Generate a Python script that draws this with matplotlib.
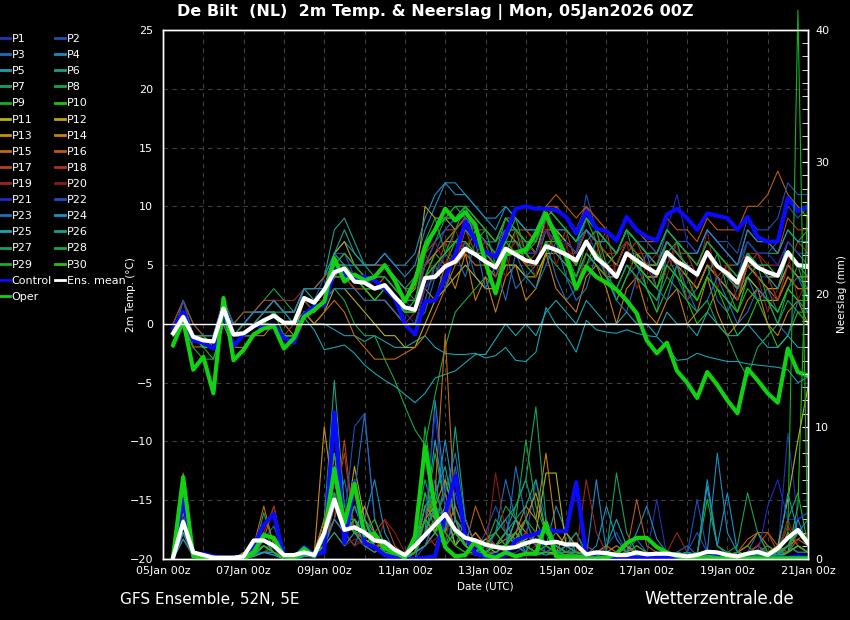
import matplotlib
matplotlib.use('Agg')
import matplotlib.pyplot as plt
from matplotlib.lines import Line2D
from matplotlib.ticker import MultipleLocator
import pandas as pd

# 6-hourly steps, +6h .. +384h from 05Jan2026 00Z
times = pd.date_range('2026-01-05 06:00', periods=64, freq='6h')

# ensemble mean / control / operational run, 2m temperature (deg C)
mean_t = [-0.8, 0.6, -1.1, -1.4, -1.5, 1.3, -0.9, -0.8, -0.2, 0.3, 0.7, 0.1, 0.1, 2.2, 1.8, 2.9,
          4.4, 4.7, 3.6, 3.5, 3.0, 3.3, 2.3, 1.4,
          1.2, 3.9, 4.0, 4.9, 5.3, 6.4, 5.9, 5.3,
          4.8, 6.4, 5.9, 5.4, 5.2, 6.6, 6.3, 5.9,
          5.4, 7.0, 5.6, 4.9, 4.0, 6.0, 5.4, 4.8,
          4.3, 6.1, 5.3, 4.8, 4.2, 6.1, 4.9, 4.3,
          3.5, 5.6, 4.8, 4.4, 4.1, 6.1, 5.0, 4.9]
control_t = [-0.4, 1.0, -1.4, -1.6, -2.1, 1.0, -1.9, -0.9, -0.1, -0.2, -0.1, -1.2, -1.6, 0.8, 1.5, 1.6,
             4.6, 4.2, 3.9, 4.0, 3.7, 3.0, 2.2, 0.0,
             -0.9, 1.9, 2.0, 4.0, 5.9, 8.7, 7.0, 6.1,
             5.7, 7.6, 9.8, 10.0, 9.8, 9.8, 9.7, 9.1,
             7.7, 9.6, 8.1, 7.9, 7.1, 9.1, 8.0, 7.4,
             7.1, 9.3, 9.8, 9.0, 8.0, 9.4, 9.2, 9.0,
             8.0, 9.1, 7.4, 7.0, 7.0, 10.7, 9.6, 10.0]
oper_t = [-1.8, 0.3, -3.9, -2.8, -5.9, 2.2, -3.1, -2.2, -0.9, -0.4, -0.2, -2.1, -1.2, 0.6, 1.2, 1.9,
          5.6, 3.6, 4.2, 3.7, 4.0, 5.0, 3.7, 1.9,
          3.7, 6.6, 8.0, 9.8, 8.8, 9.5, 8.4, 5.2,
          2.6, 5.9, 6.1, 6.3, 7.7, 9.4, 7.4, 5.7,
          3.0, 4.9, 4.0, 3.5, 2.9, 2.0, 0.9, -1.4,
          -2.5, -1.6, -4.0, -5.0, -6.3, -4.1, -5.2, -6.5,
          -7.6, -3.8, -4.8, -5.9, -6.7, -2.1, -4.1, -4.4]

# precipitation per 6h (mm)
mean_p = [0.1, 2.8, 0.5, 0.3, 0.1, 0.1, 0.1, 0.2,
          1.4, 1.4, 1.0, 0.3, 0.3, 0.5, 0.3, 2.0,
          4.5, 2.2, 2.4, 2.0, 1.4, 1.3, 0.7, 0.3,
          1.0, 1.8, 2.6, 3.4, 2.2, 1.6, 1.4, 1.1,
          0.9, 0.8, 0.9, 1.2, 1.4, 1.2, 1.3, 1.1,
          1.1, 0.35, 0.5, 0.45, 0.3, 0.3, 0.5, 0.35,
          0.4, 0.4, 0.3, 0.2, 0.3, 0.55, 0.5, 0.3,
          0.2, 0.4, 0.55, 0.3, 0.8, 1.6, 2.2, 1.2]
control_p = [0, 4.5, 0.3, 0.4, 0.2, 0.1, 0.1, 0.2,
             1.0, 2.6, 3.4, 0.2, 0.1, 0.9, 0.3, 0.5,
             11.1, 1.2, 5.8, 1.2, 0.9, 0.3, 0.1, 0.0,
             0.0, 0.1, 0.2, 3.4, 6.3, 1.7, 0.4, 0.2,
             0.2, 0.3, 1.4, 1.7, 1.9, 2.3, 2.1, 2.1,
             5.8, 0.3, 0.1, 0.1, 0.1, 0.1, 0.1, 0.1,
             0.1, 0.1, 0.1, 0.2, 0.3, 0.5, 0.4, 0.1,
             0.1, 0.1, 0.1, 0.1, 0.1, 0.1, 0.2, 0.1]
oper_p = [0.2, 6.2, 0.2, 0.1, 0.1, 0.0, 0.0, 0.0,
          0.55, 1.8, 1.6, 0.2, 0.1, 0.8, 0.2, 1.9,
          6.8, 2.7, 5.7, 1.8, 1.9, 0.8, 0.5, 0.1,
          1.7, 8.5, 3.7, 0.9, 0.2, 0.3, 1.4, 0.3,
          0.1, 0.5, 0.2, 0.4, 0.4, 2.7, 0.2, 0.1,
          0.1, 0.05, 0.05, 0.1, 0.4, 1.2, 1.6, 1.6,
          0.9, 0.5, 0.2, 0.05, 0.05, 0.05, 0.05, 0.05,
          0.05, 0.05, 0.05, 0.05, 0.05, 0.05, 0.05, 0.05]

member_names = ['P%d' % i for i in range(1, 31)]
member_colors = ['#2234b0', '#1f4fb4', '#1e6bb8', '#1b8cc0', '#1aa0b0', '#17a086', '#17a060', '#16a840',
                 '#14b024', '#22c012', '#b4b414', '#bca214', '#c49014', '#c47e14', '#c06a14', '#b85a16',
                 '#b04418', '#a8341a', '#9c241a', '#8c1a14', '#2228c4', '#1f4fb8', '#1e6fb8', '#1b90c4',
                 '#1aa4b0', '#17a086', '#17a060', '#16a840', '#14b024', '#22c012']

# perturbed members, 2m temperature
member_t = [
    [-1, 1, -1, -1, -2, 1, -1, 0, 0, 1, 1, 0, 0, 2, 2, 3, 5, 5, 4, 4, 3, 4, 3, 2, 1, 3, 5, 6, 7, 8, 7, 6, 5, 7, 7, 6, 6, 8, 7, 7, 6, 8, 6, 5, 4, 6, 6, 5, 5, 7, 6, 5, 4, 6, 5, 4, 3, 5, 4, 4, 3, 5, 4, 4],
    [0, 2, -1, -2, -2, 1, -1, -1, 0, 1, 2, 1, 0, 3, 2, 4, 6, 6, 4, 4, 3, 3, 2, 1, 2, 5, 6, 8, 9, 10, 8, 7, 6, 8, 8, 7, 6, 9, 8, 7, 6, 11, 8, 7, 6, 8, 7, 6, 5, 8, 7, 6, 5, 7, 6, 5, 4, 7, 6, 6, 7, 10, 9, 10],
    [-1, 1, -2, -2, -2, 0, -2, -1, -1, 0, 0, -1, -1, 1, 1, 2, 4, 4, 3, 3, 2, 2, 1, 0, 0, 1, 4, 6, 5, 7, 4, 3, 5, 6, 3, 4, 5, 7, 4, 2, 3, 5, 6, 4, 2, 4, 5, 3, 1, 6, 4, 2, 3, 5, 2, 1, 3, 4, 2, 3, 1, 3, 4, 2],
    [-1, 2, 0, -1, -1, 2, 0, 0, 1, 1, 2, 1, 1, 3, 3, 4, 6, 7, 6, 5, 5, 6, 5, 4, 5, 8, 10, 12, 11, 11, 10, 9, 8, 10, 9, 8, 8, 10, 9, 8, 7, 9, 8, 7, 6, 8, 7, 6, 6, 8, 7, 6, 5, 7, 6, 5, 4, 6, 5, 5, 4, 7, 6, 5],
    [-1, 1, -1, -2, -2, 1, -1, -1, 0, 0, 1, 0, 0, 1, 0, 0, -0.5, -1, -1, -1.5, -1, -1.5, -2, -2, -1.5, -1, -2, -2.5, -2.6, -2.6, -2.5, -2.9, -2.7, -2, -3.1, -3.2, -2.4, 1.4, -0.1, -1, -2.4, 0.3, -0.5, -0.7, -0.8, -0.5, -0.8, -1, -1.1, -2, -3.1, -3, -2.5, -2.8, -3, -3.2, -3.2, -3.4, -3.5, -3.6, -3.7, -3.9, -5, -4.5],
    [-1, 1, -2, -2, -2, 1, -1, 0, 1, 1, 2, 1, 1, 3, 3, 4, 8, 9, 7, 5, 5, 5, 4, 3, 3, 6, 8, 9, 10, 9, 8, 7, 6, 8, 7, 6, 5, 8, 7, 6, 5, 7, 6, 5, 4, 6, 5, 4, 4, 6, 5, 4, 3, 5, 4, 3, 2, 5, 4, 3, 3, 5, 4, 3],
    [-1, 1, -1, -1, -1, 2, 0, 1, 1, 2, 3, 2, 1, 3, 2, 3, 5, 6, 5, 4, 4, 5, 4, 3, 2, 4, 6, 7, 8, 9, 8, 7, 6, 9, 8, 7, 6, 9, 8, 7, 6, 8, 7, 6, 5, 7, 6, 5, 4, 7, 6, 5, 4, 6, 5, 4, 3, 5, 5, 4, 4, 6, 5, 5],
    [-1, 1, -1, -2, -2, 1, -1, -1, 0, 0, 1, 0, 0, 2, 1, 2, 3, 2, 0, -1, -1, -3, -4.8, -7, -9, -10.3, -6, -2, 1, 2, 3, 4, 3, 5, 5, 4, 3, 6, 5, 4, 3, 6, 5, 4, 3, 5, 4, 3, 2, 5, 4, 3, 2, 4, 3, 2, 1, 4, 3, 2, 1, 3, 2, 1],
    [-2, 0, -2, -2, -3, 0, -2, -1, 0, 0, 1, -1, -1, 1, 1, 2, 4, 5, 4, 3, 3, 3, 2, 1, 2, 5, 7, 9, 10, 10, 9, 8, 7, 9, 8, 7, 6, 9, 8, 7, 6, 9, 7, 6, 5, 7, 6, 5, 5, 7, 6, 6, 5, 7, 6, 5, 5, 7, 6, 6, 6, 8, 7, 8],
    [-1, 1, -1, -1, -2, 1, -1, -1, 0, 0, 0, -1, -1, 1, 1, 2, 4, 4, 3, 3, 2, 3, 2, 1, 1, 4, 6, 5, 7, 6, 8, 5, 4, 6, 8, 5, 4, 6, 8, 6, 3, 5, 7, 4, 2, 4, 6, 3, 1, 3, 5, 2, 0, 1, 3, 1, -1, 0, 2, 0, -2, -1, 1, 0],
    [-1, 0, -2, -2, -2, 0, -2, -1, -1, 0, 0, -1, -1, 1, 0, 1, 3, 3, 2, 1, 0, -1, -1, -2, -2, 0, 2, 3, 4, 5, 4, 3, 3, 5, 5, 4, 4, 6, 6, 5, 4, 6, 5, 4, 4, 6, 5, 4, 4, 6, 5, 4, 3, 5, 4, 3, 2, 4, 3, 2, 2, 4, 3, 3],
    [-1, 1, -1, -2, -2, 1, -1, -1, 0, 1, 1, 0, 0, 2, 2, 3, 6, 7, 5, 4, 4, 4, 3, 2, 3, 10, 9, 9, 8, 9, 8, 7, 7, 8, 7, 6, 6, 8, 8, 7, 6, 8, 7, 6, 5, 7, 6, 5, 5, 7, 6, 5, 4, 6, 5, 4, 3, 6, 5, 4, 4, 6, 5, 5],
    [-1, 1, -2, -2, -2, 1, -1, 0, 0, 0, 1, 0, -1, 2, 2, 3, 5, 5, 4, 3, 3, 3, 2, 2, 2, 5, 6, 7, 7, 8, 7, 6, 6, 8, 8, 7, 6, 9, 10, 9, 8, 10, 8, 7, 6, 8, 7, 6, 5, 7, 6, 5, 4, 6, 5, 4, 3, 5, 4, 3, 3, 5, 4, 4],
    [-1, 1, -1, -1, -2, 2, -1, -1, -1, 0, 0, -1, -1, 1, 1, 2, 4, 4, 3, 3, 2, 2, 1, 0, 0, 3, 2, 5, 3, 6, 2, 4, 1, 4, 5, 2, 3, 6, 3, 2, 1, 4, 5, 3, 0, 3, 4, 1, 0, 2, 3, 0, 1, 4, 1, -1, 0, 2, 3, 0, -1, 1, 2, 0],
    [-1, 0, -2, -2, -2, 0, -2, -2, -1, -1, 0, -1, -1, 1, 0, 1, 2, 1, -1, -2, -3, -3, -3, -2.5, -2, -1, 1, 3, 5, 6, 5, 5, 4, 6, 6, 5, 5, 7, 7, 6, 5, 7, 6, 5, 4, 6, 5, 4, 4, 6, 5, 4, 3, 5, 4, 3, 2, 5, 4, 3, 2, 4, 3, 3],
    [-1, 1, -1, -2, -2, 1, -1, -1, 0, 0, 1, 0, 0, 2, 2, 3, 5, 5, 4, 3, 3, 4, 3, 2, 2, 5, 6, 7, 8, 9, 8, 7, 7, 9, 9, 8, 7, 10, 11, 10, 9, 10, 9, 8, 7, 9, 8, 7, 7, 9, 8, 8, 7, 9, 8, 8, 8, 10, 10, 11, 13, 11, 10, 9],
    [0, 2, 0, -1, -1, 2, 0, 1, 1, 2, 2, 1, 1, 3, 3, 4, 5, 6, 5, 5, 5, 5, 4, 3, 3, 6, 7, 8, 8, 9, 8, 8, 7, 9, 8, 8, 7, 10, 10, 9, 8, 10, 9, 8, 7, 9, 8, 7, 6, 8, 7, 6, 6, 8, 7, 6, 5, 8, 7, 7, 6, 9, 8, 8],
    [-1, 1, -2, -2, -2, 0, -2, -1, -1, 0, 0, -1, 0, 2, 1, 2, 4, 4, 3, 2, 2, 2, 1, 0, 1, 6, 4, 7, 5, 8, 6, 7, 4, 6, 7, 5, 6, 8, 6, 8, 5, 7, 6, 8, 4, 6, 7, 5, 3, 5, 7, 6, 4, 6, 4, 5, 3, 5, 6, 4, 2, 5, 7, 6],
    [-1, 1, -1, -1, -2, 1, -1, 0, 0, 1, 2, 2, 2, 3, 3, 3, 4, 4, 3, 3, 3, 3, 2, 1, 1, 3, 4, 5, 6, 7, 6, 6, 6, 7, 7, 7, 6, 8, 7, 6, 6, 8, 7, 6, 6, 7, 6, 6, 5, 7, 6, 6, 5, 7, 6, 5, 5, 6, 6, 5, 5, 7, 6, 6],
    [-1, 1, -2, -2, -2, 1, -1, -1, 0, 0, 1, 0, 0, 2, 2, 2, 4, 5, 4, 3, 3, 3, 2, 1, 1, 5, 7, 5, 8, 6, 9, 5, 6, 4, 8, 6, 4, 9, 5, 7, 3, 6, 8, 4, 5, 7, 3, 5, 6, 4, 7, 2, 4, 8, 3, 5, 2, 6, 4, 1, 3, 6, 2, 4],
    [-1, 1, -1, -2, -2, 1, -1, -1, -1, 0, 0, -1, -1, 1, 1, 2, 4, 4, 4, 3, 3, 3, 2, 1, 0, 3, 4, 6, 7, 8, 7, 6, 5, 7, 7, 6, 6, 8, 7, 7, 6, 9, 8, 7, 6, 8, 7, 6, 6, 8, 11, 7, 6, 8, 7, 6, 5, 7, 6, 6, 5, 7, 6, 6],
    [-1, 2, -1, -1, -1, 2, 0, 0, 1, 1, 1, 0, 0, 2, 2, 3, 5, 6, 5, 4, 4, 4, 3, 2, 2, 5, 7, 8, 9, 9, 8, 7, 7, 8, 8, 7, 7, 9, 8, 8, 7, 9, 8, 7, 6, 8, 7, 7, 6, 8, 7, 7, 6, 8, 7, 7, 6, 9, 8, 8, 9, 12, 11, 11],
    [-1, 1, -1, -2, -2, 0, -1, -1, 0, 0, 0, -1, -1, 1, 1, 2, 3, 3, 3, 2, 2, 2, 1, 0, 0, 2, 5, 3, 6, 4, 7, 3, 5, 2, 6, 4, 3, 5, 7, 4, 2, 3, 6, 5, 2, 1, 4, 6, 3, 2, 5, 3, 1, 2, 4, 2, 0, 1, 3, 2, 0, -1, 2, 1],
    [-1, 1, -1, -1, -1, 1, 0, 0, 1, 1, 2, 1, 1, 3, 3, 3, 6, 5, 5, 5, 5, 6, 5, 5, 6, 9, 11, 12, 12, 11, 10, 9, 9, 10, 9, 8, 8, 9, 8, 8, 7, 8, 7, 7, 6, 8, 7, 6, 6, 8, 7, 6, 6, 8, 7, 6, 5, 8, 7, 7, 6, 8, 7, 7],
    [-1, 1, -1, -2, -2, 1, -1, -1, 0, 0, 1, 0, 0, 0.5, -0.5, -2.2, -2, -1.8, -2.5, -3.5, -4.2, -4.8, -5.3, -6, -6.7, -5.9, -4.6, -4.3, -4, -3.3, -2.6, -2.6, -1.3, 0, -1, 0, -1, 1, 2, 1, 0, 2, 1, 0, 0, 1, 0, 0, -1, 1, 0, 0, -1, 1, 0, -1, -1, 0, -1, -2, -2, -1, -2, -2],
    [-1, 1, -1, -2, -2, 1, -1, 0, 0, 1, 1, 1, 0, 2, 2, 3, 6, 8, 6, 5, 4, 5, 4, 3, 4, 7, 8, 9, 9, 10, 9, 8, 7, 9, 8, 7, 7, 10, 9, 8, 7, 9, 8, 7, 6, 8, 7, 6, 5, 7, 6, 5, 4, 6, 5, 4, 3, 6, 5, 4, 3, 6, 5, 4],
    [-1, 1, -1, -2, -2, 1, -1, -1, 0, 0, 1, 0, 0, 2, 2, 3, 5, 5, 4, 3, 3, 3, 2, 1, 1, 4, 5, 6, 7, 8, 7, 6, 5, 7, 7, 6, 5, 7, 6, 5, 4, 6, 5, 4, 3, 5, 4, 3, 2, 4, 3, 2, 1, 2, 0, -1, -3, -4.5, -2, -1, 0, 2, 1, 1],
    [-2, 0, -2, -3, -3, 0, -2, -1, -1, 0, 0, -1, -1, 1, 1, 2, 4, 5, 4, 3, 3, 3, 2, 1, 1, 7, 9, 6, 8, 10, 7, 8, 5, 7, 9, 6, 7, 9, 7, 6, 4, 7, 8, 5, 6, 8, 5, 4, 3, 6, 7, 4, 2, 4, 6, 3, 1, 4, 5, 2, 0, 3, 5, 2],
    [-1, 1, -1, -1, -2, 1, -1, -1, 0, 0, 1, 0, 0, 2, 2, 3, 5, 6, 5, 4, 4, 4, 3, 2, 2, 6, 8, 9, 9, 10, 9, 8, 7, 9, 8, 7, 7, 10, 9, 8, 7, 9, 8, 7, 6, 8, 7, 6, 6, 8, 7, 6, 5, 7, 6, 5, 4, 6, 5, 5, 4, 6, 5, 5],
    [-1, 1, -1, -2, -2, 1, -1, -1, 0, 0, 0, -1, -1, 1, 1, 2, 4, 4, 4, 3, 2, 3, 2, 1, 1, 4, 5, 6, 7, 7, 6, 6, 5, 7, 6, 6, 5, 7, 7, 6, 5, 7, 6, 5, 4, 6, 5, 4, 3, 5, 4, 3, 2, 4, 3, 2, 1, 3, 2, 2, 1, 3, 2, 2],
]

# perturbed members, precipitation per 6h
member_p = [
    [0, 2.5, 0.3, 0, 0, 0, 0, 0, 0.5, 1, 0.8, 0, 0, 0.3, 0, 1, 5, 1.5, 3, 2, 1, 0.5, 0.2, 0, 0.5, 2, 4, 3, 1, 0.5, 0.5, 1, 0.5, 0.3, 0.5, 1, 2, 1, 0.5, 1, 0.5, 0, 0.2, 0.3, 0, 0, 0.5, 0.3, 4.5, 0.2, 0, 0, 0, 0.5, 0.3, 0, 0, 0.5, 1, 0.5, 0.3, 9.5, 3, 3.5],
    [0, 3, 0.5, 0.2, 0, 0, 0, 0, 0.3, 0.5, 1, 0.2, 0, 0.5, 0.3, 2, 8, 3, 2, 4, 1.5, 1, 0.3, 0, 0, 1, 3, 5, 2, 1, 0.5, 2, 4, 2, 1, 1.5, 6, 3, 1, 0.5, 0.3, 0, 0, 1, 2, 0.5, 0.3, 0, 0.2, 0, 0.3, 0.5, 2, 0.5, 0.2, 0, 0, 0.3, 0.5, 0.2, 0, 1, 3, 3.5],
    [0, 4, 0.5, 0, 0, 0, 0, 0, 0.2, 1.5, 2.5, 0.3, 0, 0.5, 0.5, 1, 3, 6, 2, 1, 2, 0.5, 0.3, 0, 1, 3, 6, 2, 7, 2, 1, 1, 2, 6, 3, 1, 2, 1, 0.5, 1, 2, 0.3, 0.5, 0.3, 0, 0.5, 1.5, 0.5, 0.3, 0.2, 0.5, 1, 0.3, 0.2, 0.5, 0.3, 0.2, 0.5, 2, 0.5, 0.5, 1, 2, 1],
    [0, 2, 0.3, 0, 0, 0, 0, 0, 0.5, 0.5, 1, 0, 0, 0.2, 0.3, 2, 4, 2, 1, 3, 6, 2, 0.5, 0, 0.5, 2, 12, 5, 2, 1, 0.5, 1.5, 2, 3, 1, 0.5, 0.5, 1, 4, 2, 0.5, 0.2, 6, 0.5, 0.3, 0.5, 2, 4, 1.5, 0.5, 0.3, 0.5, 0.2, 0.5, 8, 2, 0.5, 0.3, 1, 0.5, 0.3, 0.5, 3, 1],
    [0, 1.5, 0.2, 0, 0, 0, 0, 0, 0.3, 0.5, 0.5, 0, 0, 0.3, 0.2, 1.5, 3, 2, 4, 2, 1, 0.5, 0.2, 0, 0, 3, 9, 4, 1, 3, 1, 0.5, 0.5, 1, 2, 0.5, 0.3, 0.5, 1, 0.5, 0.3, 0, 0.5, 1, 3, 1, 0.3, 0.5, 0.3, 0, 0.2, 0.5, 0.3, 5.5, 1, 0.5, 0.2, 0.5, 0.3, 0.5, 0.2, 0.5, 1, 0.5],
    [0, 3, 0.3, 0, 0, 0, 0, 0, 0.2, 1, 0.5, 0, 0, 0.3, 0.3, 3, 13.5, 4, 2, 3, 1.5, 1, 0.3, 0, 0.5, 4, 3, 2, 10, 3, 1, 0.5, 1, 2, 4, 6, 3, 1, 0.5, 0.5, 0.5, 0.3, 0, 0.5, 1, 0.5, 0, 0.3, 0.2, 0, 0, 0.3, 0.5, 0.2, 0, 0.3, 0, 0.5, 1, 0.3, 0.2, 0.5, 2, 1],
    [0, 5, 0.5, 0, 0, 0, 0, 0, 0.5, 3.5, 1, 0, 0, 0.5, 0.3, 1, 4, 2, 6, 2, 1, 0.5, 0.2, 0, 2, 6, 3, 1, 2, 1, 0.5, 1, 3, 2, 1, 2, 1, 0.5, 0.3, 1, 2, 0.5, 0.3, 0.5, 6.5, 2, 0.5, 0.3, 0.5, 0.3, 0, 0.5, 0.3, 0.5, 0.2, 0, 0.3, 0.5, 0.2, 0, 0.3, 1, 0.5, 0.5],
    [0, 2, 0.3, 0, 0, 0, 0, 0, 0.3, 0.5, 0.5, 0, 0, 0.2, 0.3, 2, 6, 3, 2, 3, 2, 1, 0.5, 0, 1, 3, 8, 4, 2, 1, 0.5, 1, 2, 4, 3, 9, 4, 2, 1, 0.5, 0.5, 0.3, 0, 0.5, 0.3, 0.5, 0.3, 0, 0.2, 0.5, 0.3, 0, 0.2, 0.5, 0.3, 0, 0.2, 0.5, 0.3, 0.5, 0.5, 3, 5, 1],
    [0, 4, 0.5, 0, 0, 0, 0, 0, 0.5, 1.5, 0.5, 0, 0, 0.3, 0.5, 2, 7, 3, 2, 1, 2, 0.5, 0.2, 0, 0.5, 5, 2, 6, 3, 1, 0.5, 0.5, 1, 1, 2, 1, 0.5, 1, 2, 1, 0.5, 0.3, 0, 0.5, 0.2, 0.5, 0.3, 0, 0.3, 0.5, 0.2, 0.5, 0.3, 4.5, 1, 0.3, 0.5, 1, 0.3, 0.5, 0.3, 1, 0.5, 0.5],
    [0, 6, 0.5, 0, 0, 0, 0, 0, 0.3, 1, 0.5, 0, 0, 0.2, 0.2, 1.5, 5, 2, 3, 1, 1, 0.5, 0.2, 0, 1, 5, 3, 2, 1, 0.5, 0.3, 0.5, 0.5, 1, 1, 0.5, 0.3, 0.5, 0.5, 0.3, 0, 0, 0, 0.2, 0.3, 0.2, 0, 0, 0.2, 0.3, 0, 0, 0.2, 0.3, 0, 0, 0, 0.2, 0.3, 0, 0.2, 0.5, 4, 28],
    [0, 2, 0.3, 0, 0.2, 0, 0, 0.3, 0.2, 0.5, 1, 0.3, 0, 0.3, 0.5, 2, 5, 3, 2, 1.5, 1, 0.5, 0.3, 0, 0.5, 3, 2, 4, 1, 2, 1, 0.5, 1, 2, 1, 1.5, 2, 6.5, 6.5, 1, 0.5, 0.3, 0.5, 0.2, 0.5, 0.3, 0.2, 0.5, 0.3, 0.2, 0, 0.3, 0.5, 0.2, 0.5, 0.3, 0.2, 0.5, 0.3, 0.5, 1, 4.5, 9, 13],
    [0, 3, 0.5, 0, 0, 0, 0, 0.5, 0.5, 1, 0.5, 0, 0, 0.5, 0.3, 3, 8, 2, 7, 3, 1, 1, 0.3, 0, 0.5, 2, 4, 3, 2, 1, 2, 1, 0.5, 1, 3, 2, 1, 0.5, 0.5, 2, 1, 0.3, 0.5, 0.2, 0.5, 0.3, 0.5, 0.3, 0.5, 0.3, 0.2, 0.5, 0.3, 0.5, 0.3, 0.2, 0.5, 0.3, 0.5, 0.2, 0.3, 2, 1, 0.5],
    [0, 4, 0.5, 0, 0, 0, 0, 0, 0.5, 1.5, 1, 0, 0, 0.5, 0.3, 10, 4, 3, 2, 4, 2, 1, 0.5, 0, 1, 3, 4, 6, 3, 2, 1, 1.5, 1, 2, 1.5, 3, 5, 2, 1, 0.5, 0.5, 0.3, 0.2, 0.5, 0.3, 1, 0.5, 0.3, 0.5, 0.3, 0.5, 0.2, 0.3, 0.5, 0.3, 0.5, 0.3, 0.5, 0.3, 0.5, 0.5, 1, 2, 1.5],
    [0, 3.5, 0.3, 0, 0, 0, 0, 0, 0.3, 0.5, 0.5, 0, 0, 0.3, 0.5, 2, 6, 3, 2, 2, 1, 0.5, 0.3, 0, 0.5, 4, 3, 2, 4, 2, 1, 0.5, 1, 1.5, 2, 4, 3, 8, 2, 1, 0.5, 0.5, 0.3, 0.5, 0.3, 0.5, 1, 0.5, 0.3, 0.5, 0.2, 0.5, 0.3, 0.2, 0.5, 0.3, 0.5, 1, 2, 1, 0.5, 0.5, 1, 0.5],
    [0, 6.5, 0.5, 0, 0, 0, 0, 0, 1, 4, 1, 0, 0, 0.5, 0.5, 3, 10, 3, 2, 2, 1, 1, 0.5, 0, 0.5, 3, 5, 17, 3, 1, 2, 1, 2, 1, 2, 3, 1, 0.5, 1, 0.5, 0.5, 0.3, 0.5, 1, 0.5, 0.3, 0.5, 0.3, 0.5, 0.3, 0.5, 0.2, 0.3, 0.5, 0.3, 0.2, 0.3, 0.5, 0.3, 0.5, 0.5, 1, 1.5, 1],
    [0, 3, 0.5, 0, 0, 0, 0, 0, 0.5, 1.5, 4, 0.3, 0, 0.5, 0.3, 2, 5, 2, 3, 2, 1.5, 0.5, 0.3, 0, 0.5, 2, 3, 5, 2, 1, 4, 2, 1, 0.5, 1, 2, 1, 3, 1, 0.5, 0.3, 0.5, 0.3, 0.5, 1, 0.5, 4.5, 1, 0.5, 0.3, 0.5, 0.3, 0.5, 0.3, 0.5, 0.3, 0.5, 1.5, 2, 2, 1, 0.5, 1.5, 2],
    [0, 2, 0.3, 0, 0, 0, 0, 0.3, 0.5, 1, 0.5, 0.3, 0.2, 0.5, 0.5, 1.5, 3, 9, 2, 1.5, 2, 3, 1, 0.3, 0.5, 1, 2, 3, 2, 3, 1, 0.5, 1, 2, 1, 0.5, 2, 1, 0.5, 1, 0.5, 1, 0.5, 0.3, 0.2, 0.5, 0.3, 0.2, 0.5, 0.3, 0.2, 0.5, 0.3, 0.5, 0.3, 0.2, 0.3, 0.5, 1, 2, 0.5, 0.5, 1, 0.5],
    [0, 2.5, 0.5, 0, 0, 0, 0, 0, 0.3, 1, 0.5, 0, 0, 0.3, 0.2, 1, 4, 8, 2, 1, 1, 0.5, 0.5, 0.2, 0.5, 2, 1, 3, 2, 1.5, 1, 0.5, 0.5, 1, 2, 1, 0.5, 1, 0.5, 0.3, 0.2, 0.3, 0.5, 0.3, 0.2, 0.3, 0.2, 0.5, 0.3, 0.2, 0.5, 0.3, 0.2, 0.3, 0.5, 0.3, 0.5, 0.3, 0.5, 1, 0.5, 2.5, 1, 0.5],
    [0, 1.5, 0.2, 0, 0, 0, 0, 0.2, 0.5, 2, 4, 0.3, 0, 0.2, 0.3, 1, 3, 2, 1, 1.5, 2, 1, 0.5, 0.3, 0.5, 1, 2, 1, 6.5, 2, 1, 0.5, 1, 0.5, 1, 2, 1, 0.5, 1, 0.5, 0.5, 6, 2, 0.5, 0.3, 0.5, 0.3, 0.2, 0.3, 0.5, 2, 0.5, 0.3, 0.2, 0.3, 0.5, 0.3, 0.5, 1, 0.5, 0.3, 1, 0.5, 0.5],
    [0, 2, 0.3, 0, 0, 0, 0, 0, 0.3, 0.5, 1, 0, 0, 0.3, 0.2, 1, 2, 1, 1.5, 1, 0.5, 3, 2, 0.5, 0.5, 1, 1.5, 2, 1, 0.5, 0.3, 0.5, 6.5, 2, 1, 0.5, 1, 0.5, 0.3, 0.5, 0.3, 0.5, 0.3, 0.2, 0.5, 0.3, 0.2, 0.3, 0.5, 0.3, 0.2, 0.3, 0.5, 0.3, 0.2, 0.3, 0.2, 0.5, 0.3, 0.2, 0.5, 3, 1, 0.5],
    [0, 3, 0.3, 0, 0, 0, 0, 0, 0.3, 1, 0.5, 0, 0, 0.3, 0.2, 1.5, 6, 2, 3, 2, 1, 0.5, 0.3, 0, 0.5, 3, 11, 4, 2, 1, 0.5, 1, 1, 2, 1, 0.5, 0.5, 1, 0.5, 0.3, 0.5, 0.2, 0.3, 0.5, 0.2, 0.5, 0.3, 0.2, 0.3, 0.5, 0.2, 0.5, 0.3, 0.2, 0.5, 0.3, 0.2, 0.5, 0.3, 4, 6, 3, 3, 3.5],
    [0, 2, 0.5, 0, 0, 0, 0, 0, 0.5, 0.5, 0.3, 0, 0, 0.2, 0.3, 2, 5, 3, 10, 11, 3, 1, 0.5, 0, 0.5, 2, 4, 3, 5, 2, 1, 0.5, 2, 3, 1, 1, 2, 0.5, 1, 0.5, 0.5, 0.3, 0.5, 0.2, 0.3, 0.5, 0.3, 0.5, 0.3, 0.2, 0.5, 0.3, 4.5, 0.5, 0.3, 0.2, 0.3, 0.5, 0.3, 0.5, 0.3, 1, 2, 1],
    [0, 2.5, 0.5, 0, 0, 0, 0, 0, 0.3, 1, 0.5, 0, 0, 0.3, 0.3, 1.5, 4, 3, 5, 11, 3, 1, 0.5, 0, 0.5, 1, 3, 5, 8, 3, 1, 0.5, 1, 1, 7, 3, 1, 0.5, 1, 0.5, 0.5, 0.3, 0.2, 0.5, 0.3, 0.5, 0.3, 0.2, 0.3, 0.5, 0.3, 0.5, 0.3, 0.5, 0.3, 0.2, 0.3, 0.5, 0.3, 0.5, 0.3, 1, 0.5, 0.5],
    [0, 1.5, 0.3, 0, 0, 0, 0, 0, 0.3, 0.5, 0.5, 0, 0, 0.2, 0.3, 1, 3, 2, 4, 2, 1, 0.5, 0.3, 0, 0.5, 2, 4, 9, 4, 2, 1, 0.5, 1, 2, 1, 0.5, 2, 1, 0.5, 1, 0.5, 0.3, 1, 4, 1.5, 0.5, 0.3, 0.5, 0.3, 0.5, 0.3, 0.5, 0.3, 6, 1, 5, 0.5, 0.3, 0.5, 0.3, 0.5, 5, 2, 3],
    [0, 2, 0.3, 0, 0, 0, 0, 0, 0.2, 0.5, 0.3, 0, 0, 0.2, 0.5, 1, 2, 1, 2, 1, 0.5, 1, 0.5, 0.2, 0.5, 1, 2, 1, 3, 1, 0.5, 0.3, 0.5, 1, 3, 1, 0.5, 0.3, 0.5, 0.3, 0.3, 0.2, 0.3, 0.5, 0.3, 0.2, 0.5, 0.3, 0.2, 0.3, 0.5, 0.3, 0.2, 0.3, 0.5, 0.3, 0.2, 0.3, 0.5, 0.3, 0.2, 0.5, 1, 0.5],
    [0, 3, 0.5, 0, 0, 0, 0, 0, 0.5, 1, 0.5, 0, 0, 0.3, 0.3, 2, 7, 3, 2, 3, 1, 0.5, 0.3, 0, 1, 4, 5, 7, 3, 2, 1, 0.5, 1, 2, 3, 4, 6, 2, 1, 0.5, 0.5, 0.3, 0.5, 0.3, 0.2, 0.5, 0.3, 0.2, 0.3, 0.2, 0.5, 0.3, 0.2, 0.3, 0.5, 0.3, 0.2, 0.5, 0.3, 0.5, 0.3, 1, 2, 1],
    [0, 4, 0.3, 0, 0, 0, 0, 0, 0.3, 1, 0.5, 0, 0, 0.5, 0.3, 2, 5, 2, 4, 2, 1, 0.5, 0.2, 0, 1, 3, 2, 3, 2, 1, 0.5, 1, 2, 3, 4, 6, 11.5, 3, 1, 0.5, 1, 0.5, 0.3, 0.5, 0.3, 0.5, 0.3, 0.2, 0.3, 0.5, 0.3, 0.5, 0.3, 0.5, 0.3, 0.5, 1, 5, 2, 0.5, 0.3, 1, 2, 1],
    [0, 3, 0.3, 0, 0, 0, 0, 0, 0.5, 1.5, 0.5, 0, 0, 0.3, 0.5, 2, 10, 3, 2, 2, 3, 1, 0.5, 0, 0.5, 2, 5, 3, 2, 1, 0.5, 0.5, 1, 2, 1, 3, 2, 1, 0.5, 0.5, 0.5, 0.3, 0.5, 0.3, 0.2, 0.5, 1, 0.5, 0.3, 0.2, 0.5, 0.3, 0.5, 0.3, 0.2, 0.3, 0.5, 0.3, 0.5, 1, 0.5, 1, 2, 1],
    [0, 5, 0.5, 0, 0, 0, 0, 0, 0.5, 2, 1, 0, 0, 0.5, 0.3, 2, 8, 3, 3, 2, 1, 0.5, 0.3, 0, 1, 10, 4, 2, 1, 0.5, 0.5, 1, 2, 1, 2, 1, 0.5, 1, 0.5, 0.3, 0.5, 0.3, 0.2, 0.5, 0.3, 0.2, 0.5, 0.3, 0.2, 0.5, 0.3, 0.2, 0.5, 0.3, 0.2, 0.5, 0.3, 0.5, 0.3, 0.5, 0.3, 2, 41.5, 0.5],
    [0, 3, 0.3, 0, 0, 0, 0, 0, 0.3, 1, 0.5, 0, 0, 0.3, 0.3, 1.5, 6, 2, 3, 2, 1, 0.5, 0.3, 0, 0.5, 3, 2, 1, 2, 1, 0.5, 0.5, 1, 1, 2, 1, 0.5, 0.5, 0.3, 0.3, 0.3, 0.2, 0, 0.3, 0.2, 0, 0.3, 0.2, 0, 0.2, 0.3, 0, 0.2, 0.3, 0, 0.2, 0, 0.2, 0.3, 0.2, 0, 0.5, 1, 0.5],
]

for row in member_t + member_p:
    assert len(row) == 64, len(row)

fig = plt.figure(figsize=(8.5, 6.2), dpi=100, facecolor='black')
ax = fig.add_axes([163 / 850, 1 - 559 / 620, 645 / 850, 529 / 620])
ax.set_facecolor('black')
ax2 = ax.twinx()

# spaghetti
for name, col, t, p in zip(member_names, member_colors, member_t, member_p):
    ax.plot(times, t, color=col, lw=0.8)
    ax2.plot(times, p, color=col, lw=0.8, clip_on=False)

ax.plot(times, control_t, color='#0a0aff', lw=3)
ax.plot(times, oper_t, color='#12d012', lw=3)
ax.plot(times, mean_t, color='white', lw=3)
ax2.plot(times, control_p, color='#0a0aff', lw=3)
ax2.plot(times, oper_p, color='#12d012', lw=3)
ax2.plot(times, mean_p, color='white', lw=3)

ax.axhline(0, color='white', lw=1)

# axes
start = pd.Timestamp('2026-01-05 00:00')
end = pd.Timestamp('2026-01-21 00:00')
ax.set_xlim(start, end)
ax.set_ylim(-20, 25)
ax2.set_ylim(0, 40)

major = pd.date_range(start, end, freq='2D')
minor = pd.date_range(start, end, freq='1D')
ax.set_xticks(major)
ax.set_xticklabels([d.strftime('%d%b %Hz') for d in major])
ax.set_xticks(minor, minor=True)
ax.set_yticks(range(-20, 26, 5))

ax.grid(True, which='both', axis='x', color='#404040', linestyle=(0, (4, 4)), lw=0.8)
ax.grid(True, which='major', axis='y', color='#404040', linestyle=(0, (4, 4)), lw=0.8)

ax.tick_params(axis='both', which='both', colors='white', length=0, labelsize=8)
ax.tick_params(axis='y', pad=7)
ax.tick_params(axis='x', pad=5)
ax2.yaxis.set_major_locator(MultipleLocator(10))
ax2.yaxis.set_minor_locator(MultipleLocator(1))
ax2.tick_params(axis='y', which='both', direction='in', length=4, colors='white', labelsize=8, pad=5)

for a in (ax, ax2):
    for s in a.spines.values():
        s.set_color('white')
        s.set_linewidth(1)

ax.set_ylabel('2m Temp. (°C)', color='white', fontsize=7.5)
ax.yaxis.set_label_coords(-0.042, 0.5)
ax2.set_ylabel('Neerslag (mm)', color='white', fontsize=7.5, labelpad=6)
ax.set_xlabel('Date (UTC)', color='white', fontsize=7.5, labelpad=4)

# legend, row-major order in two columns
col1 = list(range(0, 30, 2))
col2 = list(range(1, 30, 2))
handles = [Line2D([], [], color=member_colors[i], lw=2) for i in col1]
labels = [member_names[i] for i in col1]
handles += [Line2D([], [], color='#0a0aff', lw=2), Line2D([], [], color='#12d012', lw=2)]
labels += ['Control', 'Oper']
handles += [Line2D([], [], color=member_colors[i], lw=2) for i in col2]
labels += [member_names[i] for i in col2]
handles += [Line2D([], [], color='white', lw=2)]
labels += ['Ens. mean']
fig.legend(handles, labels, loc='upper left', bbox_to_anchor=(0, 1 - 34 / 620), ncol=2,
           frameon=False, fontsize=8, labelcolor='white', handlelength=0.9, handletextpad=0.15,
           columnspacing=0.3, labelspacing=0.55, borderpad=0, borderaxespad=0)

fig.text(435 / 850, 1 - 12 / 620, 'De Bilt  (NL)  2m Temp. & Neerslag | Mon, 05Jan2026 00Z',
         color='white', fontsize=11.5, fontweight='bold', ha='center', va='center')
fig.text(120 / 850, 1 - 599 / 620, 'GFS Ensemble, 52N, 5E', color='white', fontsize=11,
         ha='left', va='center')
fig.text(794 / 850, 1 - 599 / 620, 'Wetterzentrale.de', color='white', fontsize=12,
         ha='right', va='center')

fig.savefig('out.png', dpi=100, facecolor='black')
